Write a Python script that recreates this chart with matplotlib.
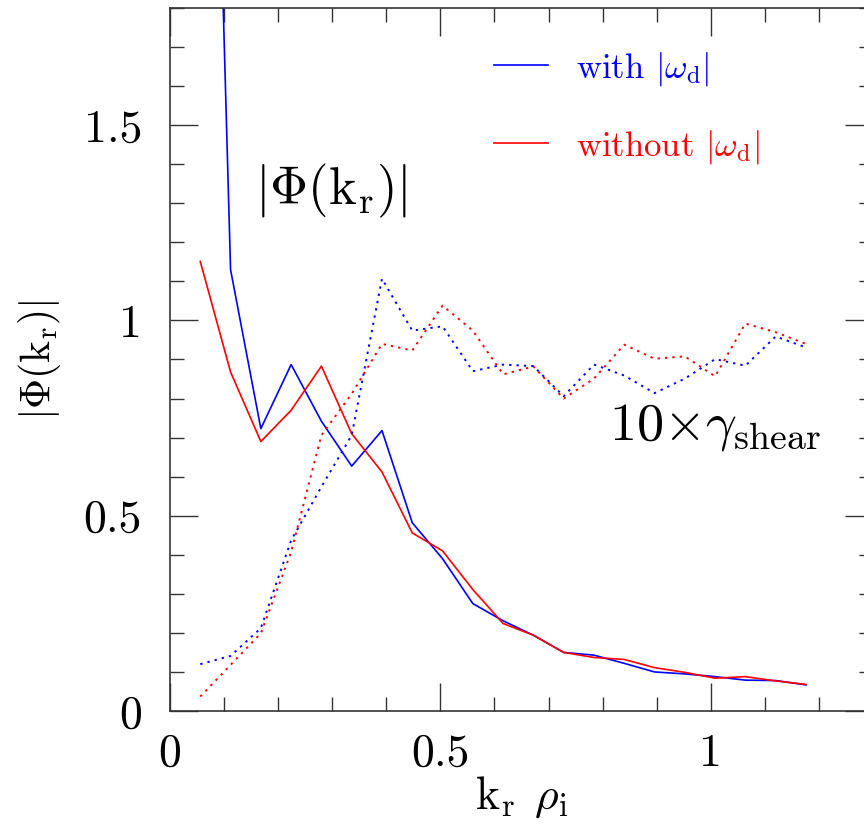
import matplotlib
matplotlib.use('Agg')
import matplotlib.pyplot as plt
from matplotlib.ticker import MultipleLocator, FormatStrFormatter

plt.rcParams['font.family'] = 'serif'
plt.rcParams['font.serif'] = ['cmr10']
plt.rcParams['mathtext.fontset'] = 'cm'
plt.rcParams['axes.unicode_minus'] = False

# radial wavenumber k_r rho_i
kr = [0.056, 0.112, 0.168, 0.224, 0.280, 0.336, 0.392, 0.448, 0.504, 0.560, 0.616,
      0.672, 0.728, 0.784, 0.840, 0.896, 0.952, 1.008, 1.064, 1.120, 1.176]

# |Phi(k_r)| spectra
phi_with = [3.90, 1.130, 0.723, 0.887, 0.742, 0.627, 0.718, 0.482, 0.390, 0.275, 0.231,
            0.194, 0.150, 0.143, 0.122, 0.100, 0.095, 0.088, 0.079, 0.078, 0.067]
phi_without = [1.151, 0.868, 0.690, 0.770, 0.883, 0.710, 0.612, 0.456, 0.410, 0.311, 0.224,
               0.194, 0.150, 0.137, 0.132, 0.111, 0.099, 0.084, 0.088, 0.077, 0.068]

# 10 x gamma_shear
gam_with = [0.120, 0.141, 0.212, 0.437, 0.574, 0.706, 1.107, 0.974, 0.985, 0.870, 0.887,
            0.883, 0.806, 0.887, 0.859, 0.814, 0.851, 0.901, 0.884, 0.959, 0.931]
gam_without = [0.037, 0.118, 0.199, 0.407, 0.706, 0.812, 0.940, 0.923, 1.038, 0.974, 0.862,
               0.882, 0.800, 0.851, 0.938, 0.902, 0.908, 0.857, 0.992, 0.970, 0.940]

fig = plt.figure(figsize=(8.64, 8.31), dpi=100)
ax = fig.add_axes([170/864, 120/831, 703/864, 703/831])

ax.plot(kr, phi_with, color='blue', lw=1.2, label=r'with $|\omega_\mathrm{d}|$')
ax.plot(kr, phi_without, color='red', lw=1.2, label=r'without $|\omega_\mathrm{d}|$')
ax.plot(kr, gam_with, color='blue', lw=1.4, dashes=(1.2, 2.6))
ax.plot(kr, gam_without, color='red', lw=1.4, dashes=(1.2, 2.6))

ax.set_xlim(0, 1.3)
ax.set_ylim(0, 1.8)
ax.xaxis.set_major_locator(MultipleLocator(0.5))
ax.xaxis.set_minor_locator(MultipleLocator(0.1))
ax.yaxis.set_major_locator(MultipleLocator(0.5))
ax.yaxis.set_minor_locator(MultipleLocator(0.1))
ax.xaxis.set_major_formatter(FormatStrFormatter('%g'))
ax.yaxis.set_major_formatter(FormatStrFormatter('%g'))
ax.tick_params(which='both', direction='in', top=True, right=True, width=1, color='#333333')
ax.tick_params(which='major', length=20, labelsize=33)
ax.tick_params(axis='y', which='major', pad=20)
ax.tick_params(axis='x', which='major', pad=16)
ax.tick_params(which='minor', length=10)
for s in ax.spines.values():
    s.set_linewidth(1.2)
    s.set_color('#333333')

ax.set_xlabel(r'$\mathrm{k_r}\;\,\rho_\mathrm{i}$', fontsize=33, labelpad=0)
ax.set_ylabel(r'$|\Phi(\mathrm{k_r})|$', fontsize=30, labelpad=15)

ax.text(0.158, 1.297, r'$|\Phi(\mathrm{k_r})|$', fontsize=38, ha='left', va='baseline')
ax.text(0.812, 0.696, r'$10{\times}\gamma_\mathrm{shear}$', fontsize=39, ha='left', va='baseline')

leg = ax.legend(loc='upper left', bbox_to_anchor=((494 - 170) / 703, (711 - 50) / 703),
                frameon=False, fontsize=25, handlelength=1.55, handletextpad=0.8,
                labelspacing=1.15, labelcolor='linecolor', borderaxespad=0, borderpad=0)

fig.savefig('out.png', dpi=100)
